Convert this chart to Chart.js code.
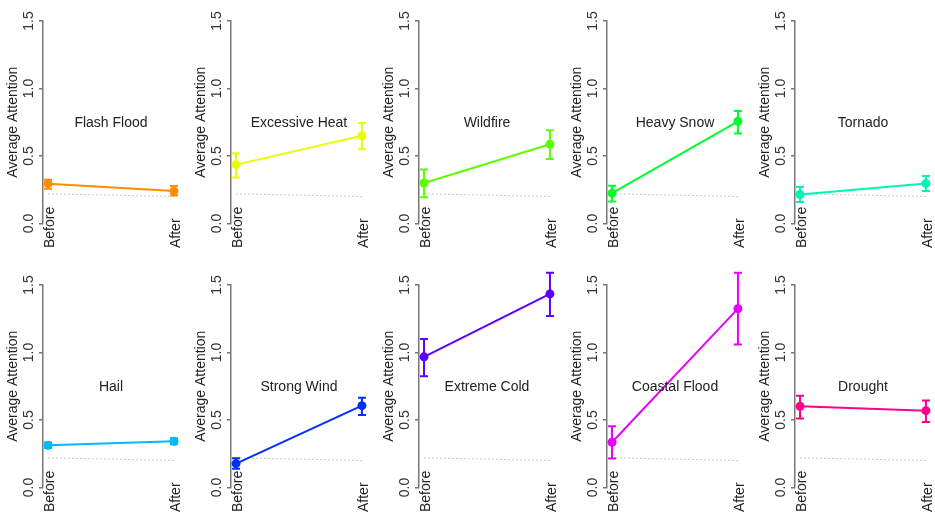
<!DOCTYPE html>
<html>
<head>
<meta charset="utf-8">
<script src="https://cdn.jsdelivr.net/npm/chart.js@4.4.1/dist/chart.umd.min.js"></script>
<style>
  body { margin: 0; background: #fff; overflow: hidden; width: 935px; height: 514px; position: relative; }
  .panel { position: absolute; width: 187px; height: 264px; }
</style>
</head>
<body>
<script>
var events = ["Flash Flood", "Excessive Heat", "Wildfire", "Heavy Snow", "Tornado",
  "Hail", "Strong Wind", "Extreme Cold", "Coastal Flood", "Drought"];
var periods = ["Before", "After"];
var yTicks = [0, 0.5, 1.0, 1.5];

var before = [0.295, 0.436, 0.30, 0.225, 0.215, 0.313, 0.177, 0.968, 0.335, 0.601];
var beforeLow = [0.257, 0.34, 0.195, 0.163, 0.16, 0.293, 0.138, 0.825, 0.214, 0.512];
var beforeHigh = [0.324, 0.52, 0.40, 0.28, 0.27, 0.333, 0.217, 1.10, 0.453, 0.68];
var after = [0.24, 0.65, 0.587, 0.757, 0.297, 0.342, 0.606, 1.434, 1.325, 0.569];
var afterLow = [0.208, 0.55, 0.477, 0.666, 0.24, 0.32, 0.537, 1.27, 1.06, 0.486];
var afterHigh = [0.277, 0.745, 0.69, 0.834, 0.351, 0.365, 0.665, 1.59, 1.59, 0.645];

// grey dotted reference line, same in every panel
var baseBefore = [0.22, 0.22, 0.22, 0.22, 0.22, 0.22, 0.22, 0.22, 0.22, 0.22];
var baseAfter = [0.20, 0.20, 0.20, 0.20, 0.20, 0.20, 0.20, 0.20, 0.20, 0.20];

var colors = ["#FF8B00", "#E8FF00", "#5DFF00", "#00FF2E", "#00F5B0",
  "#00B9FF", "#002EFF", "#5D00FF", "#E800FF", "#FF008B"];

var FONT = "'Liberation Sans', Arial, Helvetica, sans-serif";

var errorBars = {
  id: "errorBars",
  afterDatasetsDraw: function (chart, args, opts) {
    var ctx = chart.ctx;
    var x = chart.scales.x, y = chart.scales.y;
    ctx.save();
    ctx.strokeStyle = opts.color;
    ctx.lineWidth = 2;
    for (var k = 0; k < opts.low.length; k++) {
      var px = x.getPixelForValue(k + 1);
      var lo = y.getPixelForValue(opts.low[k]);
      var hi = y.getPixelForValue(opts.high[k]);
      ctx.beginPath();
      ctx.moveTo(px, lo); ctx.lineTo(px, hi);
      ctx.moveTo(px - 4, lo); ctx.lineTo(px + 4, lo);
      ctx.moveTo(px - 4, hi); ctx.lineTo(px + 4, hi);
      ctx.stroke();
    }
    ctx.restore();
  }
};

var panelText = {
  id: "panelText",
  afterDraw: function (chart, args, opts) {
    var ctx = chart.ctx;
    var x = chart.scales.x, y = chart.scales.y;
    ctx.save();
    ctx.fillStyle = "#222";
    ctx.font = "14px " + FONT;
    ctx.textAlign = "center";
    ctx.textBaseline = "middle";
    ctx.fillText(opts.name, x.getPixelForValue(1.5), y.getPixelForValue(0.74));
    // rotated Before / After labels, starting from the bottom edge
    periods.forEach(function (p, k) {
      ctx.save();
      ctx.translate(x.getPixelForValue(k + 1) + 2, chart.height - 1);
      ctx.rotate(-Math.PI / 2);
      ctx.textAlign = "left";
      ctx.fillText(p, 0, 0);
      ctx.restore();
    });
    ctx.restore();
  }
};

events.forEach(function (name, i) {
  var div = document.createElement("div");
  div.className = "panel";
  div.style.left = (i % 5) * 188 - 1 + "px";
  div.style.top = (i < 5 ? -15 : 249) + "px";
  var canvas = document.createElement("canvas");
  canvas.width = 187;
  canvas.height = 264;
  div.appendChild(canvas);
  document.body.appendChild(div);

  new Chart(canvas, {
    type: "line",
    data: {
      datasets: [
        {
          data: [{ x: 1, y: before[i] }, { x: 2, y: after[i] }],
          borderColor: colors[i],
          backgroundColor: colors[i],
          borderWidth: 2,
          pointRadius: 4.5,
          pointBorderWidth: 0,
          pointBackgroundColor: colors[i],
        },
        {
          data: [{ x: 1, y: baseBefore[i] }, { x: 2, y: baseAfter[i] }],
          borderColor: "#c8c8c8",
          borderWidth: 1,
          borderDash: [2, 2],
          pointRadius: 0,
        },
      ],
    },
    options: {
      responsive: false,
      animation: false,
      devicePixelRatio: 1,
      layout: { padding: { top: 36, bottom: 25.5, left: 0, right: 3 } },
      plugins: {
        legend: { display: false },
        tooltip: { enabled: false },
        errorBars: { color: colors[i], low: [beforeLow[i], afterLow[i]], high: [beforeHigh[i], afterHigh[i]] },
        panelText: { name: name },
      },
      scales: {
        x: { type: "linear", display: false, min: 0.96, max: 2.06 },
        y: {
          min: 0,
          max: 1.5,
          afterBuildTicks: function (s) {
            s.ticks = yTicks.map(function (v) { return { value: v }; });
          },
          afterFit: function (s) {
            s.width = 44;
            s.paddingTop = 0;
            s.paddingBottom = 0;
          },
          ticks: {
            minRotation: 90,
            maxRotation: 90,
            crossAlign: "center",
            padding: 0,
            color: "#333",
            font: { family: FONT, size: 14 },
            callback: function (v) { return Number(v).toFixed(1); },
          },
          grid: { drawOnChartArea: false, drawTicks: true, tickLength: 4, color: "#777", lineWidth: 1.5 },
          border: { color: "#777", width: 1.5 },
          title: {
            display: true,
            text: "Average Attention",
            color: "#222",
            font: { family: FONT, size: 14 },
            padding: { top: 6, bottom: 0 },
          },
        },
      },
    },
    plugins: [errorBars, panelText],
  });
});
</script>
</body>
</html>
